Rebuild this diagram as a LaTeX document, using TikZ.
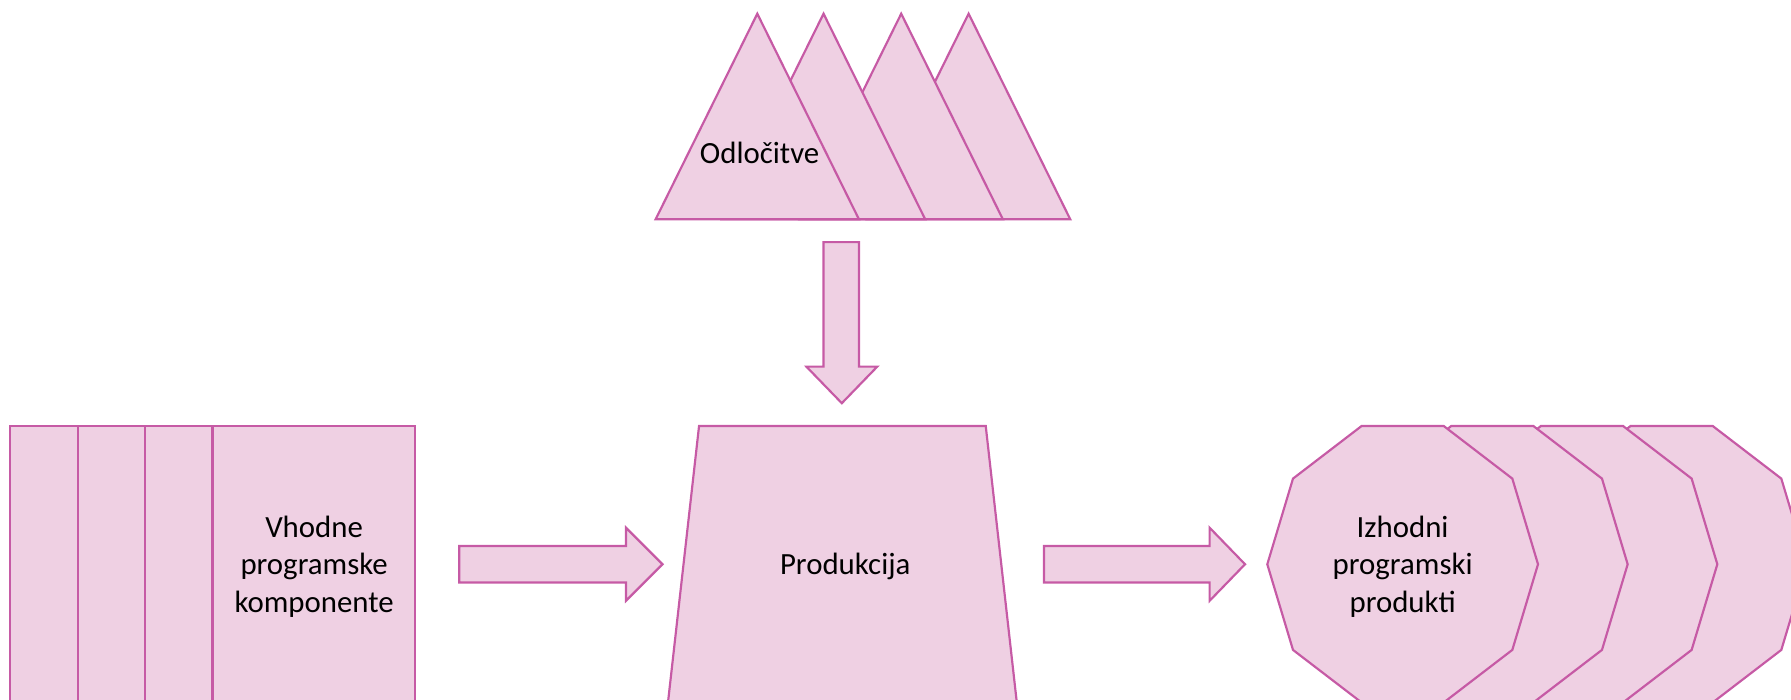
\documentclass[tikz,border=0pt]{standalone}
\usepackage{fontspec}
\setmainfont{Carlito}
\definecolor{shfill}{RGB}{239,208,227}
\definecolor{shline}{RGB}{198,90,165}
\begin{document}
\begin{tikzpicture}[x=1pt,y=-1pt,
  shp/.style={fill=shfill,draw=shline,line width=1.9pt,line join=miter},
  lbl/.style={font=\fontsize{27}{33}\selectfont,align=center,text=black,inner sep=0pt}]
\useasboundingbox (0,0) rectangle (1568,612);
\clip (0,0) rectangle (1568,612);
% decisions: stacked triangles (back to front)
\foreach \a in {848,789,721,663}{
  \draw[shp] (\a,12) -- (\a+89,192) -- (\a-89,192) -- cycle;
}
% down block arrow
\draw[shp] (721,212) -- (752,212) -- (752,321) -- (768,321) -- (737,353) -- (706,321) -- (721,321) -- cycle;
% input: stacked rectangles
\foreach \x in {9,68,127,186}{
  \draw[shp] (\x,373) rectangle (\x+177,640);
}
% right block arrows
\draw[shp] (402,478) -- (548,478) -- (548,462) -- (580,494) -- (548,526) -- (548,510) -- (402,510) -- cycle;
\draw[shp] (914,478) -- (1059,478) -- (1059,462) -- (1090,494) -- (1059,526) -- (1059,510) -- (914,510) -- cycle;
% production trapezoid
\draw[shp] (612,373) -- (863,373) -- (893,640) -- (582,640) -- cycle;
% output: stacked decagons (back to front)
\foreach \dx in {235.5,157,78.5,0}{
  \begin{scope}[shift={(1228+\dx,494)}]
    \draw[shp] (-36,-121) -- (36,-121) -- (96,-75) -- (118.5,0) -- (96,75) -- (36,121)
      -- (-36,121) -- (-96,75) -- (-118.5,0) -- (-96,-75) -- cycle;
  \end{scope}
}
\node[lbl] (odl) at (665,134) {Odločitve};
\node[lbl] (vh) at (275,496) {Vhodne\\programske\\komponente};
\node[lbl] (prod) at (740,496) {Produkcija};
\node[lbl] (izh) at (1228,496) {Izhodni\\programski\\produkti};
\end{tikzpicture}
\end{document}
